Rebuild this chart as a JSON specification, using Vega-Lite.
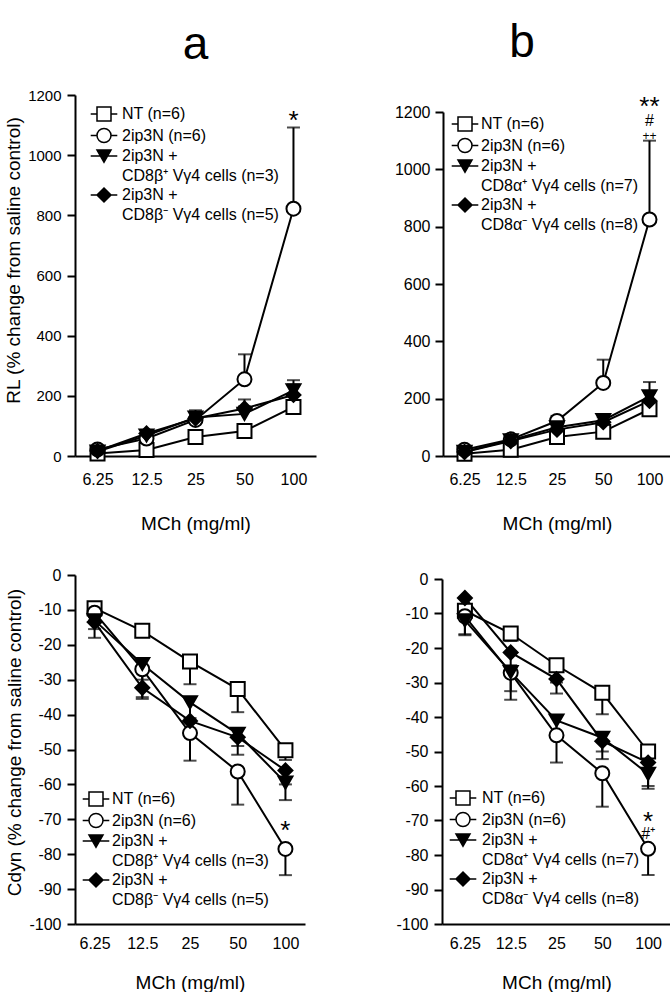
{
  "$schema": "https://vega.github.io/schema/vega-lite/v6.json",
  "padding": {"left": 4, "top": 19, "right": 0, "bottom": 0},
  "config": {
    "view": {"stroke": null},
    "font": "Liberation Sans",
    "axis": {"domainColor": "black", "domainWidth": 2, "tickColor": "black", "tickWidth": 2, "labelColor": "black", "titleColor": "black", "labelFont": "Liberation Sans", "titleFont": "Liberation Sans", "labelFontSize": 16, "titleFontSize": 19, "titleFontWeight": "normal", "grid": false},
    "legend": {"labelFont": "Liberation Sans", "labelColor": "black", "labelFontSize": 16, "padding": 0, "labelLimit": 400, "symbolSize": 196, "rowPadding": 1.5, "title": null},
    "title": {"font": "Liberation Sans", "fontWeight": "normal", "color": "black", "fontSize": 46}
  },
  "datasets": {
    "a_RL": [
      {"dose": "6.25", "group": "NT", "mean": 8, "err": 12},
      {"dose": "12.5", "group": "NT", "mean": 20, "err": 28},
      {"dose": "25", "group": "NT", "mean": 63, "err": 72},
      {"dose": "50", "group": "NT", "mean": 83, "err": 95},
      {"dose": "100", "group": "NT", "mean": 163, "err": 185},
      {"dose": "6.25", "group": "2ip3N", "mean": 22, "err": 28},
      {"dose": "12.5", "group": "2ip3N", "mean": 58, "err": 68},
      {"dose": "25", "group": "2ip3N", "mean": 120, "err": 135},
      {"dose": "50", "group": "2ip3N", "mean": 255, "err": 338},
      {"dose": "100", "group": "2ip3N", "mean": 822, "err": 1092},
      {"dose": "6.25", "group": "P", "mean": 15, "err": 20},
      {"dose": "12.5", "group": "P", "mean": 68, "err": 80},
      {"dose": "25", "group": "P", "mean": 128, "err": 152},
      {"dose": "50", "group": "P", "mean": 140, "err": 165},
      {"dose": "100", "group": "P", "mean": 218, "err": 252},
      {"dose": "6.25", "group": "M", "mean": 17, "err": 22},
      {"dose": "12.5", "group": "M", "mean": 75, "err": 85},
      {"dose": "25", "group": "M", "mean": 125, "err": 145},
      {"dose": "50", "group": "M", "mean": 158, "err": 188},
      {"dose": "100", "group": "M", "mean": 203, "err": 238}
    ],
    "b_RL": [
      {"dose": "6.25", "group": "NT", "mean": 8, "err": 10},
      {"dose": "12.5", "group": "NT", "mean": 22, "err": 30},
      {"dose": "25", "group": "NT", "mean": 66, "err": 75},
      {"dose": "50", "group": "NT", "mean": 85, "err": 97},
      {"dose": "100", "group": "NT", "mean": 163, "err": 180},
      {"dose": "6.25", "group": "2ip3N", "mean": 22, "err": 30},
      {"dose": "12.5", "group": "2ip3N", "mean": 58, "err": 65},
      {"dose": "25", "group": "2ip3N", "mean": 122, "err": 140},
      {"dose": "50", "group": "2ip3N", "mean": 255, "err": 336},
      {"dose": "100", "group": "2ip3N", "mean": 825, "err": 1100},
      {"dose": "6.25", "group": "P", "mean": 15, "err": 20},
      {"dose": "12.5", "group": "P", "mean": 55, "err": 62},
      {"dose": "25", "group": "P", "mean": 100, "err": 110},
      {"dose": "50", "group": "P", "mean": 125, "err": 146},
      {"dose": "100", "group": "P", "mean": 208, "err": 258},
      {"dose": "6.25", "group": "M", "mean": 14, "err": 18},
      {"dose": "12.5", "group": "M", "mean": 52, "err": 58},
      {"dose": "25", "group": "M", "mean": 92, "err": 100},
      {"dose": "50", "group": "M", "mean": 118, "err": 135},
      {"dose": "100", "group": "M", "mean": 192, "err": 222}
    ],
    "a_C": [
      {"dose": "6.25", "group": "NT", "mean": -9.5, "err": -11},
      {"dose": "12.5", "group": "NT", "mean": -16, "err": -17.5},
      {"dose": "25", "group": "NT", "mean": -24.8, "err": -31.3},
      {"dose": "50", "group": "NT", "mean": -32.7, "err": -39.3},
      {"dose": "100", "group": "NT", "mean": -50.2, "err": -53},
      {"dose": "6.25", "group": "2ip3N", "mean": -10.8, "err": -13},
      {"dose": "12.5", "group": "2ip3N", "mean": -27, "err": -35},
      {"dose": "25", "group": "2ip3N", "mean": -45.3, "err": -53.2},
      {"dose": "50", "group": "2ip3N", "mean": -56.3, "err": -65.8},
      {"dose": "100", "group": "2ip3N", "mean": -78.5, "err": -86},
      {"dose": "6.25", "group": "P", "mean": -13, "err": -18},
      {"dose": "12.5", "group": "P", "mean": -25.5, "err": -30},
      {"dose": "25", "group": "P", "mean": -36.5, "err": -41},
      {"dose": "50", "group": "P", "mean": -45.5, "err": -51.5},
      {"dose": "100", "group": "P", "mean": -59.5, "err": -64.5},
      {"dose": "6.25", "group": "M", "mean": -13.5, "err": -15.5},
      {"dose": "12.5", "group": "M", "mean": -32.3, "err": -35.5},
      {"dose": "25", "group": "M", "mean": -41.8, "err": -45},
      {"dose": "50", "group": "M", "mean": -46.5, "err": -49},
      {"dose": "100", "group": "M", "mean": -56, "err": -60}
    ],
    "b_C": [
      {"dose": "6.25", "group": "NT", "mean": -9.2, "err": -11},
      {"dose": "12.5", "group": "NT", "mean": -15.8, "err": -18},
      {"dose": "25", "group": "NT", "mean": -25, "err": -30},
      {"dose": "50", "group": "NT", "mean": -33, "err": -39.2},
      {"dose": "100", "group": "NT", "mean": -50, "err": -53},
      {"dose": "6.25", "group": "2ip3N", "mean": -10.8, "err": -16.3},
      {"dose": "12.5", "group": "2ip3N", "mean": -27.2, "err": -35},
      {"dose": "25", "group": "2ip3N", "mean": -45.3, "err": -53.2},
      {"dose": "50", "group": "2ip3N", "mean": -56.3, "err": -66},
      {"dose": "100", "group": "2ip3N", "mean": -78.2, "err": -85.8},
      {"dose": "6.25", "group": "P", "mean": -12, "err": -16},
      {"dose": "12.5", "group": "P", "mean": -27, "err": -32.5},
      {"dose": "25", "group": "P", "mean": -41, "err": -45},
      {"dose": "50", "group": "P", "mean": -46, "err": -52.2},
      {"dose": "100", "group": "P", "mean": -56.5, "err": -60.8},
      {"dose": "6.25", "group": "M", "mean": -5.5, "err": -8},
      {"dose": "12.5", "group": "M", "mean": -21.3, "err": -25},
      {"dose": "25", "group": "M", "mean": -29, "err": -33.2},
      {"dose": "50", "group": "M", "mean": -47, "err": -50},
      {"dose": "100", "group": "M", "mean": -53.2, "err": -60}
    ],
    "a_RL_ann": [{"dose": "100", "y": 1115, "t": "*", "s": 26}],
    "b_RL_ann": [
      {"dose": "100", "y": 1218, "t": "**", "s": 26},
      {"dose": "100", "y": 1168, "t": "#", "s": 16},
      {"dose": "100", "y": 1116, "t": "++", "s": 12}
    ],
    "a_C_ann": [{"dose": "100", "y": -73.3, "t": "*", "s": 26}],
    "b_C_ann": [
      {"dose": "100", "y": -70.5, "t": "*", "s": 26},
      {"dose": "100", "y": -74, "t": "#⁺", "s": 16}
    ]
  },
  "resolve": {"scale": {"x": "independent", "y": "independent", "shape": "independent", "fill": "independent"}, "legend": {"shape": "independent", "fill": "independent"}},
  "spacing": 34,
  "vconcat": [
    {
      "spacing": 78,
      "resolve": {"scale": {"x": "independent", "y": "independent", "shape": "independent", "fill": "independent"}, "legend": {"shape": "independent", "fill": "independent"}},
      "hconcat": [
        {
          "width": 241, "height": 361,
          "title": {"text": "a", "offset": 19},
          "data": {"name": "a_RL"},
          "resolve": {"scale": {"shape": "independent", "fill": "independent"}, "legend": {"shape": "independent", "fill": "independent"}},
          "encoding": {
            "x": {"field": "dose", "type": "ordinal", "title": "MCh (mg/ml)", "scale": {"type": "point", "domain": ["6.25", "12.5", "25", "50", "100"], "padding": 0.46}, "axis": {"ticks": false, "labelAngle": 0, "labelPadding": 15, "titlePadding": 27}},
            "y": {"field": "mean", "type": "quantitative", "title": "RL (% change from saline control)", "scale": {"domain": [0, 1200], "nice": false}, "axis": {"values": [0, 200, 400, 600, 800, 1000, 1200], "format": "d", "tickSize": 8, "labelPadding": 6, "titlePadding": 4, "labelFontSize": 15, "titleY": 165}}
          },
          "layer": [
            {"mark": {"type": "rule", "color": "black", "strokeWidth": 2}, "encoding": {"y2": {"field": "err"}}},
            {"mark": {"type": "tick", "orient": "horizontal", "color": "black", "thickness": 2, "size": 13}, "encoding": {"y": {"field": "err", "type": "quantitative", "title": "RL (% change from saline control)"}}},
            {"mark": {"type": "line", "color": "black", "strokeWidth": 2}, "encoding": {"detail": {"field": "group"}}},
            {"mark": {"type": "point", "stroke": "black", "strokeWidth": 2, "size": 196, "opacity": 1},
             "encoding": {
               "fill": {"field": "group", "type": "nominal", "scale": {"domain": ["NT", "2ip3N", "P", "M"], "range": ["white", "white", "black", "black"]}, "legend": null},
               "shape": {"field": "group", "type": "nominal", "scale": {"domain": ["NT", "2ip3N", "P", "M"], "range": ["square", "circle", "triangle-down", "diamond"]}, "legend": null}
             }},
            {"transform": [{"filter": "false"}],
             "mark": {"type": "point", "stroke": "black", "strokeWidth": 2, "opacity": 1},
             "encoding": {
               "shape": {"field": "group", "type": "nominal",
                 "scale": {"domain": ["NT", "2ip3N", "P", "P2", "M", "M2"], "range": ["M-1.9,0H-1M1,0H1.9M-1,-1H1V1H-1Z", "M-1.9,0H-1M1,0H1.9M-1,0A1,1,0,1,1,1,0A1,1,0,1,1,-1,0Z", "M-1.9,0H1.9M-1,-0.85H1L0,0.9Z", "M0,0", "M-1.9,0H1.9M0,-1L1,0L0,1L-1,0Z", "M0,0"]},
                 "legend": {"orient": "none", "legendX": 21, "legendY": 11, "values": ["NT", "2ip3N", "P", "P2", "M", "M2"], "labelOffset": 10,
                   "labelExpr": "datum.value == 'NT' ? 'NT (n=6)' : datum.value == '2ip3N' ? '2ip3N (n=6)' : datum.value == 'P2' ? 'CD8β⁺ Vγ4 cells (n=3)' : datum.value == 'M2' ? 'CD8β⁻ Vγ4 cells (n=5)' : '2ip3N +'"}},
               "fill": {"field": "group", "type": "nominal",
                 "scale": {"domain": ["NT", "2ip3N", "P", "P2", "M", "M2"], "range": ["white", "white", "black", "black", "black", "black"]},
                 "legend": {"orient": "none", "legendX": 21, "legendY": 11, "values": ["NT", "2ip3N", "P", "P2", "M", "M2"], "labelOffset": 10,
                   "labelExpr": "datum.value == 'NT' ? 'NT (n=6)' : datum.value == '2ip3N' ? '2ip3N (n=6)' : datum.value == 'P2' ? 'CD8β⁺ Vγ4 cells (n=3)' : datum.value == 'M2' ? 'CD8β⁻ Vγ4 cells (n=5)' : '2ip3N +'"}}
             }},
            {"data": {"name": "a_RL_ann"}, "mark": {"type": "text", "color": "black", "baseline": "middle"}, "encoding": {"y": {"field": "y", "type": "quantitative", "title": "RL (% change from saline control)"}, "text": {"field": "t"}, "size": {"field": "s", "type": "quantitative", "scale": null}}}
          ]
        },
        {
          "width": 228, "height": 361,
          "title": {"text": "b", "offset": 27, "dx": -35},
          "data": {"name": "b_RL"},
          "resolve": {"scale": {"shape": "independent", "fill": "independent"}, "legend": {"shape": "independent", "fill": "independent"}},
          "encoding": {
            "x": {"field": "dose", "type": "ordinal", "title": "MCh (mg/ml)", "scale": {"type": "point", "domain": ["6.25", "12.5", "25", "50", "100"], "padding": 0.465}, "axis": {"ticks": false, "labelAngle": 0, "labelPadding": 15, "titlePadding": 27}},
            "y": {"field": "mean", "type": "quantitative", "title": null, "scale": {"domain": [0, 1200], "range": [361, 17], "nice": false}, "axis": {"values": [0, 200, 400, 600, 800, 1000, 1200], "format": "d", "tickSize": 8, "labelPadding": 5}}
          },
          "layer": [
            {"mark": {"type": "rule", "color": "black", "strokeWidth": 2}, "encoding": {"y2": {"field": "err"}}},
            {"mark": {"type": "tick", "orient": "horizontal", "color": "black", "thickness": 2, "size": 13}, "encoding": {"y": {"field": "err", "type": "quantitative", "title": null}}},
            {"mark": {"type": "line", "color": "black", "strokeWidth": 2}, "encoding": {"detail": {"field": "group"}}},
            {"mark": {"type": "point", "stroke": "black", "strokeWidth": 2, "size": 196, "opacity": 1},
             "encoding": {
               "fill": {"field": "group", "type": "nominal", "scale": {"domain": ["NT", "2ip3N", "P", "M"], "range": ["white", "white", "black", "black"]}, "legend": null},
               "shape": {"field": "group", "type": "nominal", "scale": {"domain": ["NT", "2ip3N", "P", "M"], "range": ["square", "circle", "triangle-down", "diamond"]}, "legend": null}
             }},
            {"transform": [{"filter": "false"}],
             "mark": {"type": "point", "stroke": "black", "strokeWidth": 2, "opacity": 1},
             "encoding": {
               "shape": {"field": "group", "type": "nominal",
                 "scale": {"domain": ["NT", "2ip3N", "P", "P2", "M", "M2"], "range": ["M-1.9,0H-1M1,0H1.9M-1,-1H1V1H-1Z", "M-1.9,0H-1M1,0H1.9M-1,0A1,1,0,1,1,1,0A1,1,0,1,1,-1,0Z", "M-1.9,0H1.9M-1,-0.85H1L0,0.9Z", "M0,0", "M-1.9,0H1.9M0,-1L1,0L0,1L-1,0Z", "M0,0"]},
                 "legend": {"orient": "none", "legendX": 14, "legendY": 21, "values": ["NT", "2ip3N", "P", "P2", "M", "M2"], "labelOffset": 8,
                   "labelExpr": "datum.value == 'NT' ? 'NT (n=6)' : datum.value == '2ip3N' ? '2ip3N (n=6)' : datum.value == 'P2' ? 'CD8α⁺ Vγ4 cells (n=7)' : datum.value == 'M2' ? 'CD8α⁻ Vγ4 cells (n=8)' : '2ip3N +'"}},
               "fill": {"field": "group", "type": "nominal",
                 "scale": {"domain": ["NT", "2ip3N", "P", "P2", "M", "M2"], "range": ["white", "white", "black", "black", "black", "black"]},
                 "legend": {"orient": "none", "legendX": 14, "legendY": 21, "values": ["NT", "2ip3N", "P", "P2", "M", "M2"], "labelOffset": 8,
                   "labelExpr": "datum.value == 'NT' ? 'NT (n=6)' : datum.value == '2ip3N' ? '2ip3N (n=6)' : datum.value == 'P2' ? 'CD8α⁺ Vγ4 cells (n=7)' : datum.value == 'M2' ? 'CD8α⁻ Vγ4 cells (n=8)' : '2ip3N +'"}}
             }},
            {"data": {"name": "b_RL_ann"}, "mark": {"type": "text", "color": "black", "baseline": "middle"}, "encoding": {"y": {"field": "y", "type": "quantitative", "title": null}, "text": {"field": "t"}, "size": {"field": "s", "type": "quantitative", "scale": null}}}
          ]
        }
      ]
    },
    {
      "spacing": 90,
      "resolve": {"scale": {"x": "independent", "y": "independent", "shape": "independent", "fill": "independent"}, "legend": {"shape": "independent", "fill": "independent"}},
      "hconcat": [
        {
          "width": 230, "height": 349,
          "data": {"name": "a_C"},
          "resolve": {"scale": {"shape": "independent", "fill": "independent"}, "legend": {"shape": "independent", "fill": "independent"}},
          "encoding": {
            "x": {"field": "dose", "type": "ordinal", "title": "MCh (mg/ml)", "scale": {"type": "point", "domain": ["6.25", "12.5", "25", "50", "100"], "padding": 0.41}, "axis": {"ticks": false, "labelAngle": 0, "labelPadding": 11, "titlePadding": 22}},
            "y": {"field": "mean", "type": "quantitative", "title": "Cdyn (% change from saline control)", "scale": {"domain": [-100, 0], "nice": false}, "axis": {"values": [-100, -90, -80, -70, -60, -50, -40, -30, -20, -10, 0], "labelExpr": "'' + datum.value", "tickSize": 8, "labelPadding": 6, "titlePadding": 4, "titleY": 167}}
          },
          "layer": [
            {"mark": {"type": "rule", "color": "black", "strokeWidth": 2}, "encoding": {"y2": {"field": "err"}}},
            {"mark": {"type": "tick", "orient": "horizontal", "color": "black", "thickness": 2, "size": 13}, "encoding": {"y": {"field": "err", "type": "quantitative", "title": "Cdyn (% change from saline control)"}}},
            {"mark": {"type": "line", "color": "black", "strokeWidth": 2}, "encoding": {"detail": {"field": "group"}}},
            {"mark": {"type": "point", "stroke": "black", "strokeWidth": 2, "size": 196, "opacity": 1},
             "encoding": {
               "fill": {"field": "group", "type": "nominal", "scale": {"domain": ["NT", "2ip3N", "P", "M"], "range": ["white", "white", "black", "black"]}, "legend": null},
               "shape": {"field": "group", "type": "nominal", "scale": {"domain": ["NT", "2ip3N", "P", "M"], "range": ["square", "circle", "triangle-down", "diamond"]}, "legend": null}
             }},
            {"transform": [{"filter": "false"}],
             "mark": {"type": "point", "stroke": "black", "strokeWidth": 2, "opacity": 1},
             "encoding": {
               "shape": {"field": "group", "type": "nominal",
                 "scale": {"domain": ["NT", "2ip3N", "P", "P2", "M", "M2"], "range": ["M-1.9,0H-1M1,0H1.9M-1,-1H1V1H-1Z", "M-1.9,0H-1M1,0H1.9M-1,0A1,1,0,1,1,1,0A1,1,0,1,1,-1,0Z", "M-1.9,0H1.9M-1,-0.85H1L0,0.9Z", "M0,0", "M-1.9,0H1.9M0,-1L1,0L0,1L-1,0Z", "M0,0"]},
                 "legend": {"orient": "none", "legendX": 13, "legendY": 216, "values": ["NT", "2ip3N", "P", "P2", "M", "M2"], "labelOffset": 8,
                   "labelExpr": "datum.value == 'NT' ? 'NT (n=6)' : datum.value == '2ip3N' ? '2ip3N (n=6)' : datum.value == 'P2' ? 'CD8β⁺ Vγ4 cells (n=3)' : datum.value == 'M2' ? 'CD8β⁻ Vγ4 cells (n=5)' : '2ip3N +'"}},
               "fill": {"field": "group", "type": "nominal",
                 "scale": {"domain": ["NT", "2ip3N", "P", "P2", "M", "M2"], "range": ["white", "white", "black", "black", "black", "black"]},
                 "legend": {"orient": "none", "legendX": 13, "legendY": 216, "values": ["NT", "2ip3N", "P", "P2", "M", "M2"], "labelOffset": 8,
                   "labelExpr": "datum.value == 'NT' ? 'NT (n=6)' : datum.value == '2ip3N' ? '2ip3N (n=6)' : datum.value == 'P2' ? 'CD8β⁺ Vγ4 cells (n=3)' : datum.value == 'M2' ? 'CD8β⁻ Vγ4 cells (n=5)' : '2ip3N +'"}}
             }},
            {"data": {"name": "a_C_ann"}, "mark": {"type": "text", "color": "black", "baseline": "middle"}, "encoding": {"y": {"field": "y", "type": "quantitative", "title": "Cdyn (% change from saline control)"}, "text": {"field": "t"}, "size": {"field": "s", "type": "quantitative", "scale": null}}}
          ]
        },
        {
          "width": 229, "height": 349,
          "data": {"name": "b_C"},
          "resolve": {"scale": {"shape": "independent", "fill": "independent"}, "legend": {"shape": "independent", "fill": "independent"}},
          "encoding": {
            "x": {"field": "dose", "type": "ordinal", "title": "MCh (mg/ml)", "scale": {"type": "point", "domain": ["6.25", "12.5", "25", "50", "100"], "padding": 0.5}, "axis": {"ticks": false, "labelAngle": 0, "labelPadding": 11, "titlePadding": 22}},
            "y": {"field": "mean", "type": "quantitative", "title": null, "scale": {"domain": [-100, 0], "range": [349, 4], "nice": false}, "axis": {"values": [-100, -90, -80, -70, -60, -50, -40, -30, -20, -10, 0], "labelExpr": "'' + datum.value", "tickSize": 8, "labelPadding": 6}}
          },
          "layer": [
            {"mark": {"type": "rule", "color": "black", "strokeWidth": 2}, "encoding": {"y2": {"field": "err"}}},
            {"mark": {"type": "tick", "orient": "horizontal", "color": "black", "thickness": 2, "size": 13}, "encoding": {"y": {"field": "err", "type": "quantitative", "title": null}}},
            {"mark": {"type": "line", "color": "black", "strokeWidth": 2}, "encoding": {"detail": {"field": "group"}}},
            {"mark": {"type": "point", "stroke": "black", "strokeWidth": 2, "size": 196, "opacity": 1},
             "encoding": {
               "fill": {"field": "group", "type": "nominal", "scale": {"domain": ["NT", "2ip3N", "P", "M"], "range": ["white", "white", "black", "black"]}, "legend": null},
               "shape": {"field": "group", "type": "nominal", "scale": {"domain": ["NT", "2ip3N", "P", "M"], "range": ["square", "circle", "triangle-down", "diamond"]}, "legend": null}
             }},
            {"transform": [{"filter": "false"}],
             "mark": {"type": "point", "stroke": "black", "strokeWidth": 2, "opacity": 1},
             "encoding": {
               "shape": {"field": "group", "type": "nominal",
                 "scale": {"domain": ["NT", "2ip3N", "P", "P2", "M", "M2"], "range": ["M-1.9,0H-1M1,0H1.9M-1,-1H1V1H-1Z", "M-1.9,0H-1M1,0H1.9M-1,0A1,1,0,1,1,1,0A1,1,0,1,1,-1,0Z", "M-1.9,0H1.9M-1,-0.85H1L0,0.9Z", "M0,0", "M-1.9,0H1.9M0,-1L1,0L0,1L-1,0Z", "M0,0"]},
                 "legend": {"orient": "none", "legendX": 13, "legendY": 215, "values": ["NT", "2ip3N", "P", "P2", "M", "M2"], "labelOffset": 11,
                   "labelExpr": "datum.value == 'NT' ? 'NT (n=6)' : datum.value == '2ip3N' ? '2ip3N (n=6)' : datum.value == 'P2' ? 'CD8α⁺ Vγ4 cells (n=7)' : datum.value == 'M2' ? 'CD8α⁻ Vγ4 cells (n=8)' : '2ip3N +'"}},
               "fill": {"field": "group", "type": "nominal",
                 "scale": {"domain": ["NT", "2ip3N", "P", "P2", "M", "M2"], "range": ["white", "white", "black", "black", "black", "black"]},
                 "legend": {"orient": "none", "legendX": 13, "legendY": 215, "values": ["NT", "2ip3N", "P", "P2", "M", "M2"], "labelOffset": 11,
                   "labelExpr": "datum.value == 'NT' ? 'NT (n=6)' : datum.value == '2ip3N' ? '2ip3N (n=6)' : datum.value == 'P2' ? 'CD8α⁺ Vγ4 cells (n=7)' : datum.value == 'M2' ? 'CD8α⁻ Vγ4 cells (n=8)' : '2ip3N +'"}}
             }},
            {"data": {"name": "b_C_ann"}, "mark": {"type": "text", "color": "black", "baseline": "middle"}, "encoding": {"y": {"field": "y", "type": "quantitative", "title": null}, "text": {"field": "t"}, "size": {"field": "s", "type": "quantitative", "scale": null}}}
          ]
        }
      ]
    }
  ]
}
